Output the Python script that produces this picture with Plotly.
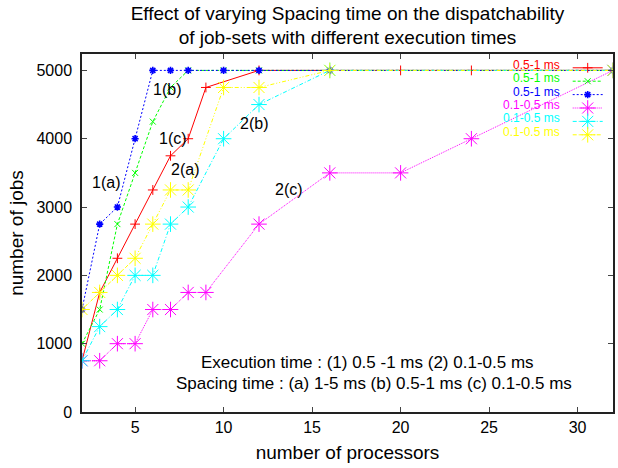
import plotly.graph_objects as go

# ---- data ----
x_1c = [2, 3, 4, 5, 6, 7, 8, 9, 12, 16, 20, 24, 32]
y_1c = [750, 1750, 2250, 2750, 3250, 3750, 4000, 4750, 5000, 5000, 5000, 5000, 5000]

x_1b = [2, 3, 4, 5, 6, 7, 8, 10, 12, 16, 32]
y_1b = [1000, 1500, 2750, 3500, 4250, 4750, 5000, 5000, 5000, 5000, 5000]

x_1a = [2, 3, 4, 5, 6, 7, 8, 10, 12, 16, 32]
y_1a = [1500, 2750, 3000, 4000, 5000, 5000, 5000, 5000, 5000, 5000, 5000]

x_2c = [2, 3, 4, 5, 6, 7, 8, 9, 12, 16, 20, 24, 32]
y_2c = [750, 750, 1000, 1000, 1500, 1500, 1750, 1750, 2750, 3500, 3500, 4000, 5000]

x_2b = [2, 3, 4, 5, 6, 7, 8, 10, 12, 16, 32]
y_2b = [750, 1250, 1500, 2000, 2000, 2750, 3000, 4000, 4500, 5000, 5000]

x_2a = [2, 3, 4, 5, 6, 7, 8, 10, 12, 16, 32]
y_2a = [1500, 1750, 2000, 2250, 2750, 3250, 3250, 4750, 4750, 5000, 5000]

legend_labels = ["0.5-1 ms", "0.5-1 ms", "0.5-1 ms", "0.1-0.5 ms", "0.1-0.5 ms", "0.1-0.5 ms"]
curve_labels = ["1(a)", "1(b)", "1(c)", "2(a)", "2(b)", "2(c)"]
curve_label_x = [2.43, 5.88, 6.22, 6.93, 10.8, 12.77]
curve_label_y = [3355, 4715, 4009, 3545, 4218, 3263]

x_ticks = [5, 10, 15, 20, 25, 30]
y_ticks = [0, 1000, 2000, 3000, 4000, 5000]

FONT = "Liberation Sans, Arial, Helvetica, sans-serif"

series = [
    (x_1c, y_1c, "#ff0000", "solid", "cross-thin", 7, 1.0),
    (x_1b, y_1b, "#00ff00", "3px,2px", "x-thin", 6, 1.0),
    (x_1a, y_1a, "#0000ff", "2px,2px", "asterisk", 6, 1.6),
    (x_2c, y_2c, "#ff00ff", "1px,1px", "asterisk", 13, 1.0),
    (x_2b, y_2b, "#00ffff", "4px,2px,1px,2px", "asterisk", 13, 1.0),
    (x_2a, y_2a, "#ffff00", "4px,2px,1px,2px,1px,2px", "asterisk", 13, 1.0),
]

fig = go.Figure()
legend_y_px = [67.8, 81.2, 94.6, 108.0, 121.4, 134.8]
PLOT_TOP, PLOT_BOTTOM = 54, 412

for i, (xs, ys, col, dash, sym, size, lw) in enumerate(series):
    lname = "legend" if i == 0 else f"legend{i+1}"
    fig.add_trace(go.Scatter(
        x=xs, y=ys, mode="lines+markers", name="",
        line=dict(color=col, width=1, dash=dash),
        marker=dict(symbol=sym, size=size, color=col,
                    line=dict(color=col, width=lw)),
        legend=lname, showlegend=True,
        hovertemplate=legend_labels[i] + ": %{x}, %{y}<extra></extra>",
    ))

legend_layouts = {}
for i, col in enumerate([s[2] for s in series]):
    lname = "legend" if i == 0 else f"legend{i+1}"
    py = (PLOT_BOTTOM - legend_y_px[i]) / (PLOT_BOTTOM - PLOT_TOP)
    legend_layouts[lname] = dict(
        x=1.0, xanchor="right", y=py, yanchor="middle",
        bgcolor="rgba(0,0,0,0)", borderwidth=0,
        title=dict(text=legend_labels[i], side="left",
                   font=dict(family=FONT, size=12, color=col)),
        font=dict(family=FONT, size=12, color=col),
        itemwidth=30,
    )

annotations = []
for t, ax_, ay_ in zip(curve_labels, curve_label_x, curve_label_y):
    annotations.append(dict(x=ax_, y=ay_, xref="x", yref="y", text=t,
                            showarrow=False, xanchor="left", yanchor="middle",
                            font=dict(family=FONT, size=16, color="black")))
annotations.append(dict(x=8.61, y=720, xref="x", yref="y",
                        text="Execution time : (1) 0.5 -1 ms (2) 0.1-0.5 ms",
                        showarrow=False, xanchor="left", yanchor="middle",
                        font=dict(family=FONT, size=17, color="black")))
annotations.append(dict(x=7.22, y=410, xref="x", yref="y",
                        text="Spacing time : (a) 1-5 ms (b) 0.5-1 ms (c) 0.1-0.5 ms",
                        showarrow=False, xanchor="left", yanchor="middle",
                        font=dict(family=FONT, size=17, color="black")))

fig.update_layout(
    width=618, height=468,
    margin=dict(l=82, r=3, t=54, b=56),
    paper_bgcolor="white", plot_bgcolor="white",
    showlegend=True,
    font=dict(family=FONT, size=16, color="black"),
    title=dict(text="Effect of varying Spacing time on the dispatchability<br>of job-sets with different execution times",
               x=0.5, xref="paper", xanchor="center",
               y=0.958, yref="container", yanchor="top",
               font=dict(family=FONT, size=19, color="black")),
    xaxis=dict(range=[2, 32], tickvals=x_ticks, ticks="inside", ticklen=5,
               tickcolor="#444", showgrid=False, zeroline=False,
               showline=True, linecolor="#222", linewidth=1.5, mirror="ticks",
               tickfont=dict(family=FONT, size=16, color="black"),
               title=dict(text="number of processors", standoff=11,
                          font=dict(family=FONT, size=19, color="black"))),
    yaxis=dict(range=[0, 5240], tickvals=y_ticks, ticks="inside", ticklen=5,
               tickcolor="#444", showgrid=False, zeroline=False,
               showline=True, linecolor="#222", linewidth=1.5, mirror="ticks",
               ticklabelstandoff=5,
               tickfont=dict(family=FONT, size=16, color="black"),
               title=dict(text="number of jobs", standoff=8,
                          font=dict(family=FONT, size=19, color="black"))),
    annotations=annotations,
    **legend_layouts,
)

fig.write_html("out.html", config={"displayModeBar": False},
               post_script="document.body.style.margin='0';document.body.style.overflow='hidden';")
